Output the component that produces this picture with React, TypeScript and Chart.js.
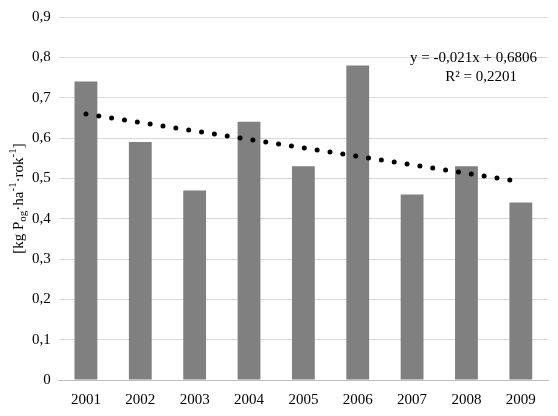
import React, { useRef, useEffect } from 'react';
import { Chart, registerables } from 'chart.js';

Chart.register(...registerables);

const years = ['2001', '2002', '2003', '2004', '2005', '2006', '2007', '2008', '2009'];
const values = [0.74, 0.59, 0.47, 0.64, 0.53, 0.78, 0.46, 0.53, 0.44];
const slope = -0.021;
const intercept = 0.6806;
const trend = years.map((_, i) => slope * (i + 1) + intercept);

const FONT = '"Liberation Serif", "Times New Roman", serif';

// y-axis title with sub/superscripts, drawn by hand
const yTitle = {
  id: 'yTitle',
  afterDraw(chart: any) {
    const ctx = chart.ctx;
    const area = chart.chartArea;
    const parts: [string, number, number][] = [
      ['[kg P', 15, 0],
      ['og', 11, 4],
      ['·ha', 15, 0],
      ['-1', 11, -6],
      ['·rok', 15, 0],
      ['-1', 11, -6],
      [']', 15, 0],
    ];
    ctx.save();
    let total = 0;
    parts.forEach(([t, s]) => { ctx.font = `${s}px ${FONT}`; total += ctx.measureText(t).width; });
    ctx.translate(19, (area.top + area.bottom) / 2);
    ctx.rotate(-Math.PI / 2);
    ctx.fillStyle = '#000';
    ctx.textBaseline = 'middle';
    let x = -total / 2;
    parts.forEach(([t, s, dy]) => {
      ctx.font = `${s}px ${FONT}`;
      ctx.fillText(t, x, dy);
      x += ctx.measureText(t).width;
    });
    ctx.restore();
  },
};

const equation = {
  id: 'equation',
  afterDraw(chart: any) {
    const ctx = chart.ctx;
    ctx.save();
    ctx.font = `15px ${FONT}`;
    ctx.fillStyle = '#000';
    ctx.textAlign = 'right';
    ctx.textBaseline = 'alphabetic';
    ctx.fillText('y = -0,021x + 0,6806', 537, 62);
    ctx.fillText('R² = 0,2201', 517, 81);
    ctx.restore();
  },
};

export default function App() {
  const canvasRef = useRef<HTMLCanvasElement>(null);

  useEffect(() => {
    const chart = new Chart(canvasRef.current!, {
      type: 'bar',
      data: {
        labels: years,
        datasets: [
          {
            type: 'line',
            data: trend,
            borderColor: '#000',
            borderWidth: 5,
            borderDash: [0, 13],
            borderCapStyle: 'round',
            pointRadius: 0,
            order: 0,
          } as any,
          {
            data: values,
            backgroundColor: '#808080',
            barPercentage: 0.42,
            categoryPercentage: 1,
            order: 1,
          },
        ],
      },
      options: {
        animation: false,
        responsive: false,
        layout: { padding: { top: 12, right: 10, left: 24, bottom: 4 } },
        plugins: { legend: { display: false }, tooltip: { enabled: false } },
        scales: {
          x: {
            grid: { display: false },
            border: { color: '#bfbfbf' },
            ticks: { color: '#000', font: { family: FONT, size: 15 } },
          },
          y: {
            min: 0,
            max: 0.9,
            grid: { color: '#d9d9d9', drawTicks: false },
            border: { display: false },
            ticks: {
              stepSize: 0.1,
              padding: 8,
              color: '#000',
              font: { family: FONT, size: 15 },
              callback: (v: any) => (v === 0 ? '0' : Number(v).toFixed(1).replace('.', ',')),
            },
          },
        },
      },
      plugins: [yTitle, equation],
    });
    return () => chart.destroy();
  }, []);

  return <canvas ref={canvasRef} width={558} height={416} style={{ position: 'absolute', left: 0, top: 0 }} />;
}
